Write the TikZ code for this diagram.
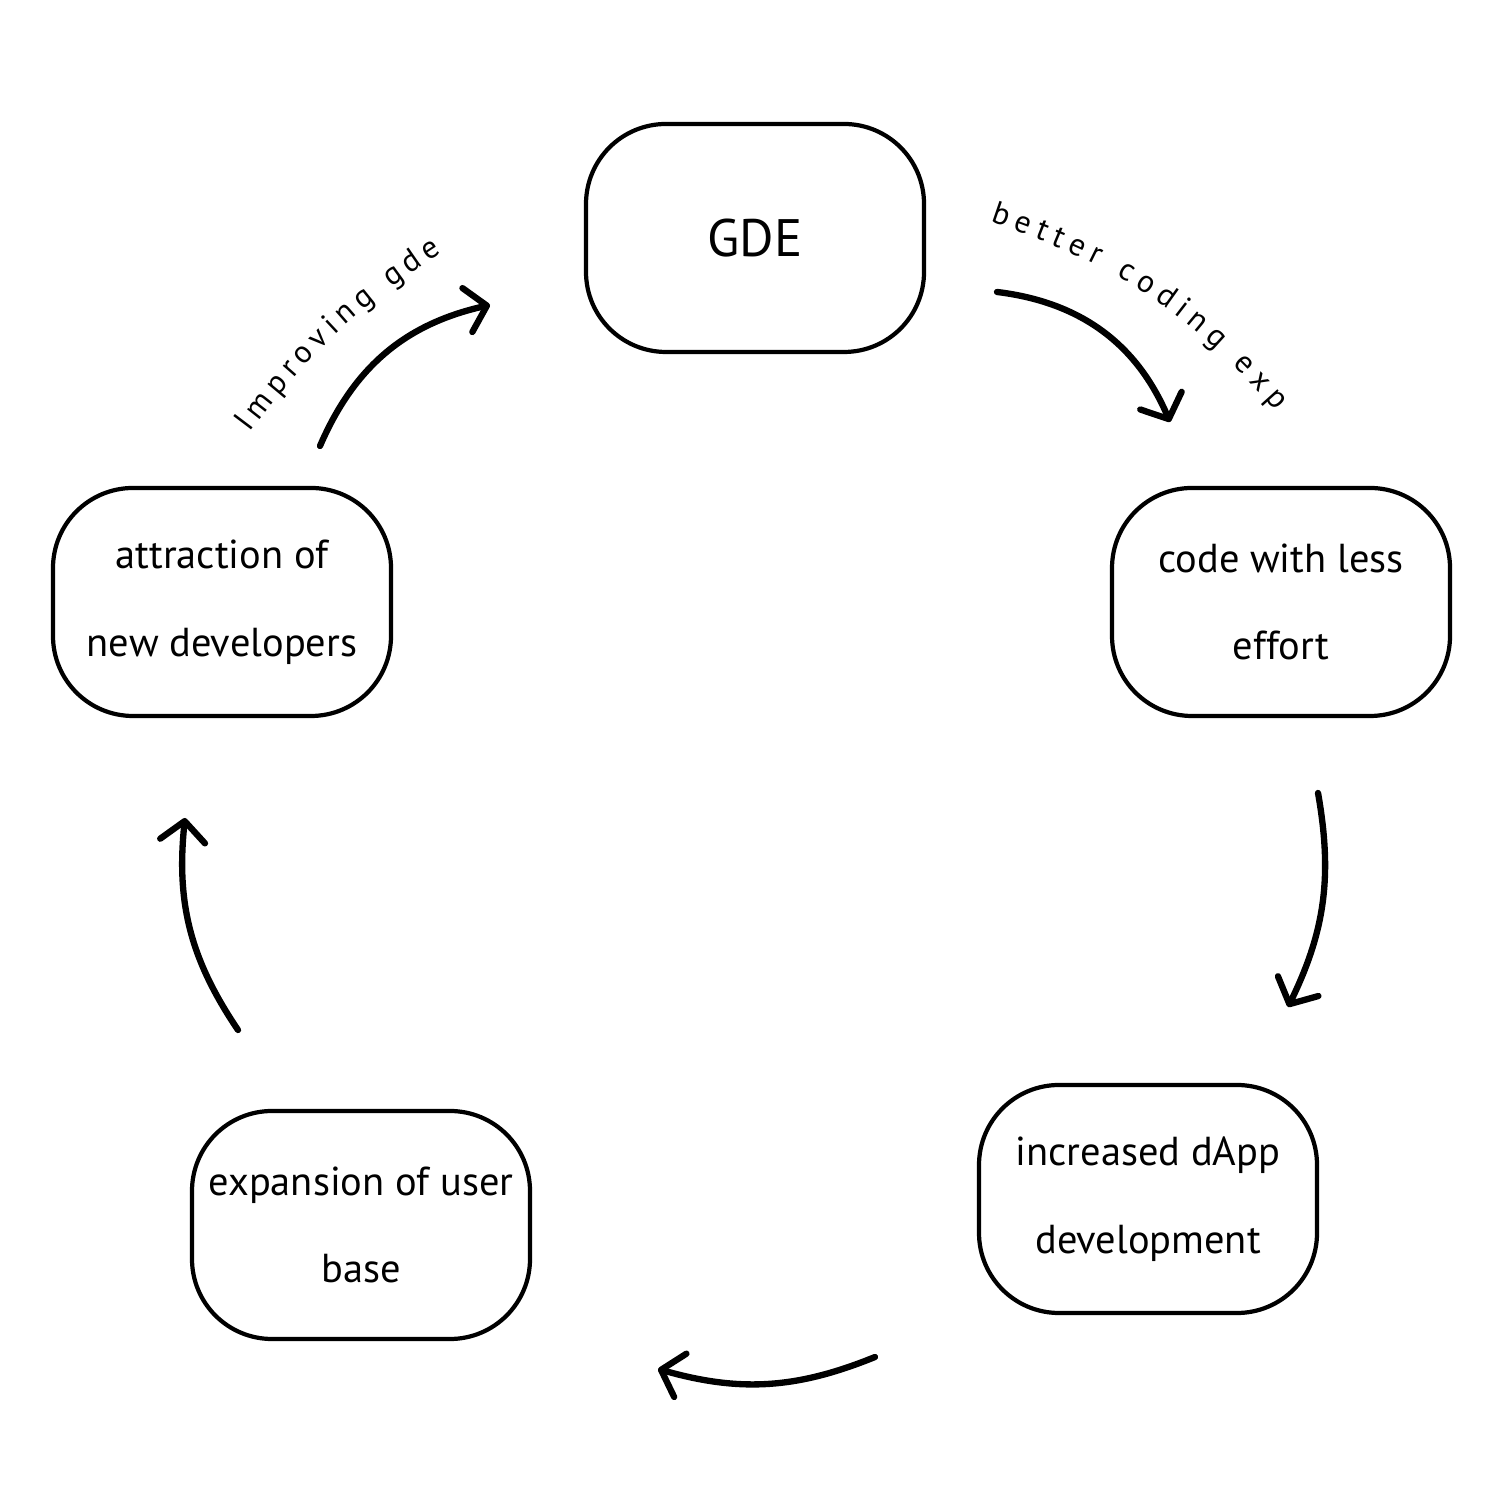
\documentclass[tikz,border=0pt]{standalone}
\usepackage{fontspec}
\setmainfont{PT Sans}
\usetikzlibrary{arrows.meta, decorations.text}
\tikzset{
    box/.style={draw, line width=1.2pt, rounded corners=0.8cm, minimum width=3.38cm, minimum height=2.28cm, align=center, font=\fontsize{11.5}{25}\selectfont},
    flow/.style={-{Straight Barb[length=2mm, width=4.5mm, round]}, line width=1.8pt, line cap=round},
    arclabel/.style={decorate, decoration={text along path, text align=fit to path, text={|\fontsize{9}{9}\selectfont|#1}}}
}

\begin{document}
\begin{tikzpicture}
    \useasboundingbox (0,0) rectangle (15.05,15.05);
    % Boxes of the cycle
    \node[box, font=\fontsize{15}{15}\selectfont] (gde) at (7.55,12.67) {GDE};
    \node[box] (code) at (12.81,9.03) {code with less\\effort};
    \node[box] (dapp) at (11.48,3.06) {increased dApp\\development};
    \node[box] (userbase) at (3.61,2.80) {expansion of user\\base};
    \node[box] (devs) at (2.22,9.03) {attraction of\\new developers};
    % Arrow ends
    \coordinate (gde out) at (9.97,12.13);
    \coordinate (code in) at (11.70,10.83);
    \coordinate (code out) at (13.18,7.12);
    \coordinate (dapp in) at (12.88,4.98);
    \coordinate (dapp out) at (8.75,1.48);
    \coordinate (userbase in) at (6.58,1.36);
    \coordinate (userbase out) at (2.38,4.75);
    \coordinate (devs in) at (1.85,6.87);
    \coordinate (devs out) at (3.20,10.59);
    \coordinate (gde in) at (4.90,12.00);
    % Cycle arrows
    \draw[flow] (gde out) to[bend left=30] (code in);
    \draw[flow] (code out) to[bend left=18] (dapp in);
    \draw[flow] (dapp out) to[bend left=19] (userbase in);
    \draw[flow] (userbase out) to[bend left=20] (devs in);
    \draw[flow] (devs out) to[bend left=27] (gde in);
    % Curved labels
    \path[arclabel={better coding exp}] (9.90,12.83) to[bend left=15] (12.76,10.94);
    \path[arclabel={Improving gde}] (2.50,10.72) to[bend left=10] (4.42,12.52);
\end{tikzpicture}
\end{document}
